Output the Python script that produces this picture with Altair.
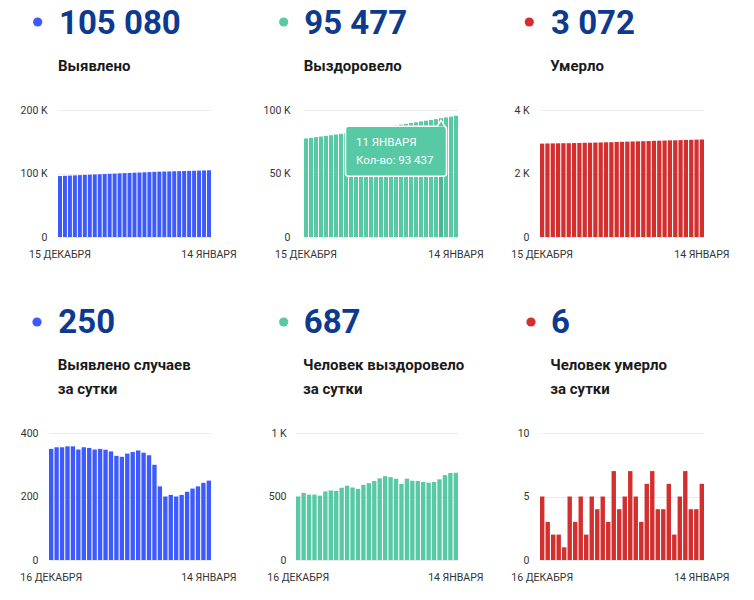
import altair as alt
import pandas as pd

# ---- data ----
dates_top = [f"{d} ДЕКАБРЯ" for d in range(15, 32)] + [f"{d} ЯНВАРЯ" for d in range(1, 15)]
dates_bottom = dates_top[1:]

cases_total = [96013, 96363, 96718, 97073, 97431, 97789, 98137, 98492, 98845, 99193,
               99543, 99890, 100232, 100560, 100885, 101220, 101560, 101905, 102243, 102573,
               102873, 103105, 103305, 103510, 103710, 103915, 104130, 104355, 104587, 104830,
               105080]
recovered_total = [77585, 78085, 78613, 79128, 79643, 80150, 80690, 81238, 81782, 82350,
                   82935, 83505, 84065, 84657, 85262, 85884, 86527, 87187, 87839, 88479,
                   89079, 89719, 90343, 90965, 91579, 92188, 92802, 93437, 94105, 94790,
                   95477]
deaths_total = [2941, 2946, 2949, 2951, 2953, 2954, 2959, 2962, 2967, 2969,
                2974, 2978, 2983, 2986, 2993, 2997, 3002, 3009, 3014, 3017,
                3023, 3030, 3034, 3038, 3044, 3046, 3051, 3058, 3062, 3066,
                3072]
cases_daily = [350, 355, 355, 358, 358, 348, 355, 353, 348, 350,
               347, 342, 328, 325, 335, 340, 345, 338, 330, 300,
               232, 200, 205, 200, 205, 215, 225, 232, 243, 250]
recovered_daily = [500, 528, 515, 515, 507, 540, 548, 544, 568, 585,
                   570, 560, 592, 605, 622, 643, 660, 652, 640, 600,
                   640, 624, 622, 614, 609, 614, 635, 668, 685, 687]
deaths_daily = [5, 3, 2, 2, 1, 5, 3, 5, 2, 5,
                4, 5, 3, 7, 4, 5, 7, 5, 3, 6,
                7, 4, 4, 6, 2, 5, 7, 4, 4, 6]

tooltip_date = "11 ЯНВАРЯ"
tooltip_value = 93437

BLUE = "#3d5afe"
GREEN = "#57c9a5"
GREEN_DARK = "#4cb893"
RED = "#d32f2f"
NAVY = "#0d3a8f"
FONT = "Roboto"
PLOT_H = 127


def fmt(v):
    return f"{v:,}".replace(",", " ")


LABEL_EXPR = "datum.value >= 1000 ? (datum.value / 1000) + ' K' : datum.value + ''"


def panel(dates, values, color, ydomain, yticks, xrange, width, label_pad,
          title_lines, head, highlight=None):
    df = pd.DataFrame({"date": dates, "value": values})
    xenc = alt.X(
        "date:N", sort=dates,
        scale=alt.Scale(range=xrange, paddingInner=0.2, paddingOuter=0),
        axis=alt.Axis(values=[dates[0], dates[-1]], title=None, domain=False, ticks=False,
                      labelAngle=0, labelPadding=12, labelFontSize=10.5, labelColor="#333333",
                      labelFont=FONT, labelOverlap=False),
    )
    yenc = alt.Y(
        "value:Q",
        scale=alt.Scale(domain=ydomain, nice=False, zero=True),
        axis=alt.Axis(values=yticks, title=None, domain=False, ticks=False, grid=True,
                      gridColor="#ebebeb", gridWidth=1, labelPadding=label_pad,
                      labelExpr=LABEL_EXPR, labelFontSize=10.5, labelColor="#333333",
                      labelFont=FONT),
    )
    if highlight is not None:
        col = alt.condition(alt.datum.date == highlight, alt.value(GREEN_DARK), alt.value(color))
    else:
        col = alt.value(color)
    bars = alt.Chart(df).mark_bar().encode(x=xenc, y=yenc, color=col)

    dot_x, num_x, sub_x, dot_y, num_y, sub_y = head
    hdr = pd.DataFrame({"t": [fmt(values[-1])]})
    dot = alt.Chart(hdr).mark_circle(size=85, color=color, opacity=1).encode(
        x=alt.value(dot_x), y=alt.value(dot_y))
    num = alt.Chart(hdr).mark_text(
        align="left", baseline="alphabetic", font=FONT, fontSize=33, fontWeight="bold",
        color=NAVY).encode(text="t:N", x=alt.value(num_x), y=alt.value(num_y))
    layers = [bars, dot, num]
    for i, line in enumerate(title_lines):
        sdf = pd.DataFrame({"t": [line]})
        layers.append(alt.Chart(sdf).mark_text(
            align="left", baseline="alphabetic", font=FONT, fontSize=15, fontWeight="bold",
            color="#1a1a1a").encode(text="t:N", x=alt.value(sub_x), y=alt.value(sub_y + i * 23.6)))

    if highlight is not None:
        tdf = pd.DataFrame({"date": [tooltip_date], "value": [tooltip_value],
                            "l1": [tooltip_date], "l2": ["Кол-во: " + fmt(tooltip_value)]})
        tx = alt.X("date:N", sort=dates, scale=alt.Scale(range=xrange, paddingInner=0.2, paddingOuter=0))
        ty = alt.Y("value:Q", scale=alt.Scale(domain=ydomain, nice=False, zero=True))
        box = alt.Chart(tdf).mark_rect(
            width=101, xOffset=-45, yOffset=8, y2Offset=58, fill=GREEN, stroke="white",
            strokeWidth=1.5, cornerRadius=3).encode(x=tx, y=ty, y2="value:Q")
        notch = alt.Chart(tdf).mark_point(
            shape="M -1 0.8 L 0 -0.8 L 1 0.8", filled=True, fill=GREEN, stroke="white",
            strokeWidth=1.5, size=64, opacity=1, fillOpacity=1, yOffset=5).encode(x=tx, y=ty)
        t1 = alt.Chart(tdf).mark_text(
            align="left", baseline="alphabetic", font=FONT, fontSize=11.5, color="white",
            dx=-85, dy=28).encode(x=tx, y=ty, text="l1:N")
        t2 = alt.Chart(tdf).mark_text(
            align="left", baseline="alphabetic", font=FONT, fontSize=11.5, color="white",
            dx=-85, dy=45.5).encode(x=tx, y=ty, text="l2:N")
        layers += [box, notch, t1, t2]

    return alt.layer(*layers).properties(width=width, height=PLOT_H)


top_head_y = (-88, -75.7, -38.7)
bot_head_y = (-111, -100.4, -62.7)

p1 = panel(dates_top, cases_total, BLUE, [0, 200000], [0, 100000, 200000], [10, 163], 163, 1,
           ["Выявлено"], (-10.3, 11, 10) + top_head_y)
p2 = panel(dates_top, recovered_total, GREEN, [0, 100000], [0, 50000, 100000], [13, 167], 167, 1,
           ["Выздоровело"], (-7.3, 13.3, 12.7) + top_head_y, highlight=tooltip_date)
p3 = panel(dates_top, deaths_total, RED, [0, 4000], [0, 2000, 4000], [2, 166], 166, 9,
           ["Умерло"], (-8.7, 13, 12.3) + top_head_y)
p4 = panel(dates_bottom, cases_daily, BLUE, [0, 400], [0, 200, 400], [1, 163], 163, 10,
           ["Выявлено случаев", "за сутки"], (-11, 10.3, 9.7) + bot_head_y)
p5 = panel(dates_bottom, recovered_daily, GREEN, [0, 1000], [0, 500, 1000], [5, 167], 167, 5,
           ["Человек выздоровело", "за сутки"], (-7.3, 12.7, 12) + bot_head_y)
p6 = panel(dates_bottom, deaths_daily, RED, [0, 10], [0, 5, 10], [2, 166], 166, 9,
           ["Человек умерло", "за сутки"], (-7, 13, 12.3) + bot_head_y)

row1 = alt.hconcat(p1, p2, p3, spacing=80, bounds="flush")
row2 = alt.hconcat(p4, p5, p6, spacing=80, bounds="flush")

chart = alt.vconcat(row1, row2, spacing=323, bounds="flush").properties(
    padding={"left": 11, "top": 0, "right": 5, "bottom": 5},
    background="white",
).configure_view(stroke=None)

chart.save("out.html", embed_options={"renderer": "svg", "actions": False})
